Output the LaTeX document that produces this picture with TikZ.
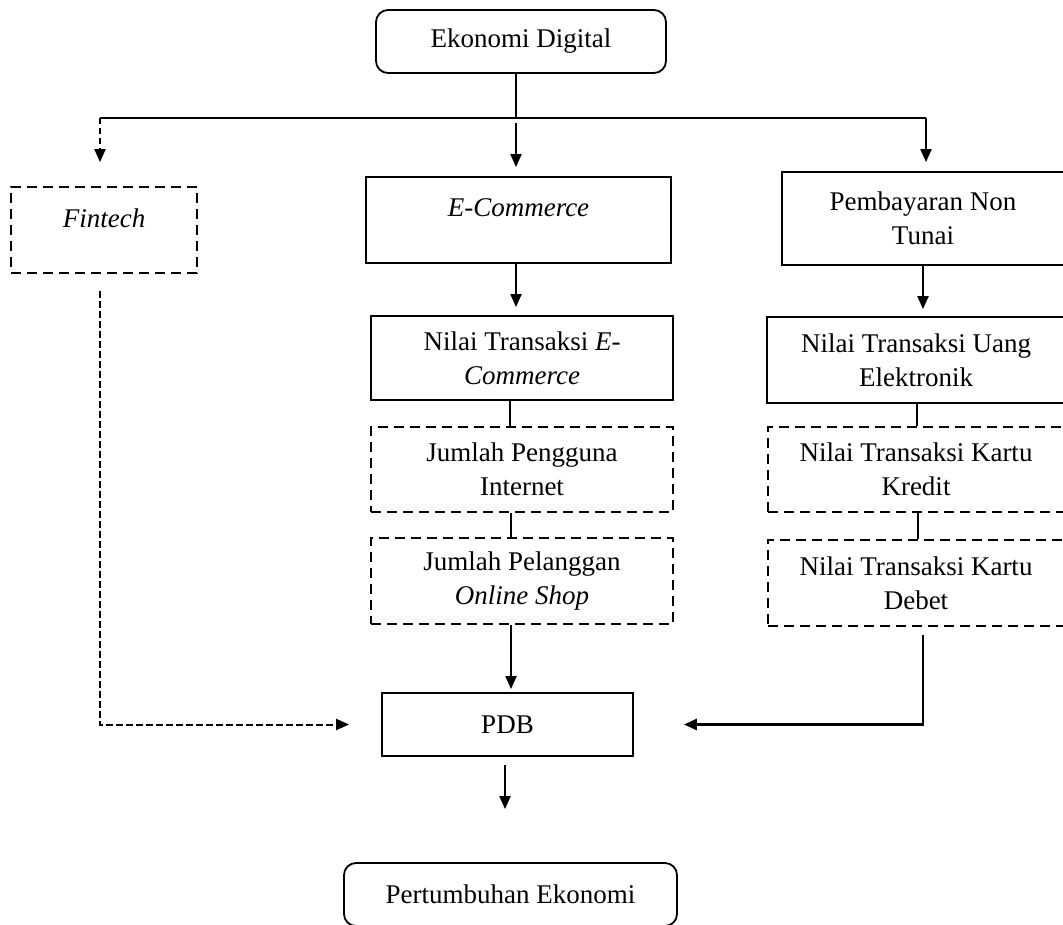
\documentclass[tikz,border=0pt]{standalone}
\usepackage{fontspec}
\setmainfont{Liberation Serif}
\usetikzlibrary{arrows.meta,positioning}

\begin{document}
\begin{tikzpicture}[
  x=1pt, y=-1pt,
  font=\fontsize{27}{34}\selectfont,
  box/.style={draw, line width=1.8pt, align=center, inner sep=0pt},
  dashbox/.style={box, dash pattern=on 10pt off 6pt},
  roundbox/.style={box, rounded corners=12pt},
  oneline/.style={text depth=24pt},
  link/.style={line width=2pt},
  arr/.style={link, -{Triangle[width=11pt,length=13pt]}},
]
\useasboundingbox (0,0) rectangle (1063,924);

% =========================== top ===============================
\node[roundbox, minimum width=290pt, minimum height=63pt] (eko) at (521,41.5)
  {Ekonomi Digital};

\coordinate (split) at (516,118);
\coordinate (toFin) at (100,118);
\coordinate (toPay) at (926,118);

% =========================== three branches ====================
\node[dashbox, oneline, minimum width=186pt, minimum height=86pt] (fin) at (104,230)
  {\textit{Fintech}};
\node[box, oneline, minimum width=305pt, minimum height=86pt] (ec) at (518.5,220)
  {\textit{E-Commerce}};
\node[box, minimum width=282pt, minimum height=93pt] (pay) at (923,218.5)
  {Pembayaran Non\\ Tunai};

% --- e-commerce column ---
\node[box, minimum width=302pt, minimum height=84pt] (nte) at (522,358)
  {Nilai Transaksi \textit{E-}\\ \textit{Commerce}};
\node[dashbox, minimum width=302pt, minimum height=85pt] (jpi) at (522,469.5)
  {Jumlah Pengguna\\ Internet};
\node[dashbox, minimum width=302pt, minimum height=86pt] (jpo) at (522,581)
  {Jumlah Pelanggan\\ \textit{Online Shop}};

% --- non-cash column ---
\node[box, minimum width=298pt, minimum height=86pt] (nue) at (916,360)
  {Nilai Transaksi Uang\\ Elektronik};
\node[dashbox, minimum width=296pt, minimum height=85pt] (kre) at (916,469.5)
  {Nilai Transaksi Kartu\\ Kredit};
\node[dashbox, minimum width=296pt, minimum height=86pt] (deb) at (916,583)
  {Nilai Transaksi Kartu\\ Debet};

% =========================== bottom ============================
\node[box, minimum width=251pt, minimum height=63pt] (pdb) at (507.5,724.5) {PDB};
\node[roundbox, minimum width=333pt, minimum height=63pt] (grow) at (510.5,894.5)
  {Pertumbuhan Ekonomi};

% =========================== connectors ========================
\draw[link] (eko.south -| split) -- (split);
\draw[link] (toFin) -- (toPay);
\draw[arr, dash pattern=on 6pt off 4pt, shorten >=24pt] (toFin) -- (toFin |- fin.north);
\draw[arr, shorten <=5pt, shorten >=9pt] (split) -- (split |- ec.north);
\draw[arr, shorten >=9pt] (toPay) -- (toPay |- pay.north);

\draw[arr, shorten >=8pt] ([xshift=-2.5pt]ec.south) -- ([xshift=-2.5pt]ec.south |- nte.north);
\draw[link] ([xshift=-12pt]nte.south) -- ([xshift=-12pt]nte.south |- jpi.north);
\draw[link] ([xshift=-11pt]jpi.south) -- ([xshift=-11pt]jpi.south |- jpo.north);
\draw[arr, shorten >=3pt] ([xshift=-11pt]jpo.south) -- ([xshift=-11pt]jpo.south |- pdb.north);

\draw[arr, shorten >=7pt] (pay.south) -- (pay.south |- nue.north);
\draw[link] ([xshift=1pt]nue.south) -- ([xshift=1pt]nue.south |- kre.north);
\draw[link] ([xshift=2pt]kre.south) -- ([xshift=2pt]kre.south |- deb.north);

\draw[arr, line width=2.8pt, shorten <=8pt, shorten >=50pt]
  ([xshift=7pt]deb.south) |- (pdb.east);
\draw[arr, dash pattern=on 7pt off 3pt, shorten <=17pt, shorten >=32pt]
  ([xshift=-4pt]fin.south) |- (pdb.west);
\draw[arr, shorten <=8pt, shorten >=53pt] ([xshift=-2.5pt]pdb.south) -- ([xshift=-2.5pt]pdb.south |- grow.north);

\end{tikzpicture}
\end{document}
